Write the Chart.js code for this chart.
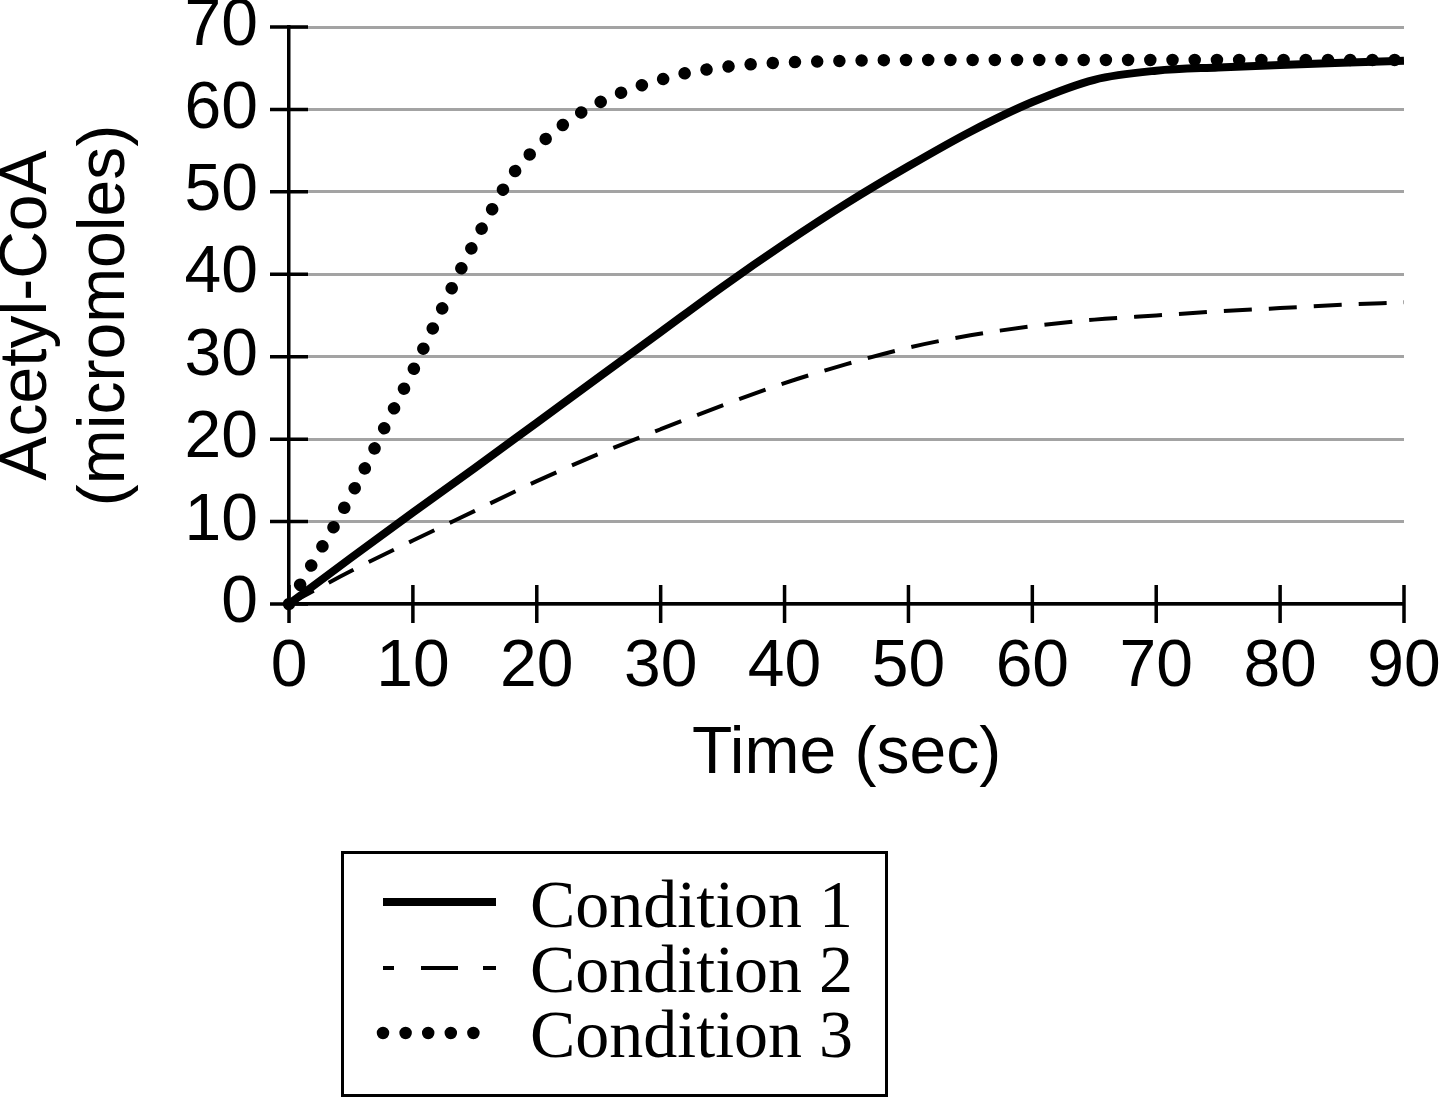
<!DOCTYPE html>
<html>
<head>
<meta charset="utf-8">
<title>Acetyl-CoA over time</title>
<style>
  * { margin: 0; padding: 0; box-sizing: border-box; }
  body { background: #fff; width: 1440px; height: 1097px; overflow: hidden; position: relative; }
  #chartBox { position: absolute; left: 0; top: 0; width: 1440px; height: 1097px; }
  #legend { position: absolute; left: 341px; top: 851px; }
  #legend text { font-family: "Liberation Serif", "Times New Roman", serif; font-size: 68px; fill: #000; }
</style>
</head>
<body>
<div id="chartBox"><canvas id="myChart" width="1440" height="1097"></canvas></div>

<svg id="legend" width="547" height="246" viewBox="0 0 547 246">
  <rect x="1.5" y="1.5" width="544" height="243" fill="#fff" stroke="#000" stroke-width="3"/>
  <line x1="42" y1="51" x2="155" y2="51" stroke="#000" stroke-width="8"/>
  <line x1="42" y1="117" x2="155" y2="117" stroke="#000" stroke-width="4" stroke-dasharray="11 27 37 25 13"/>
  <line x1="42" y1="182" x2="155" y2="182" stroke="#000" stroke-width="12.5" stroke-linecap="round" stroke-dasharray="0 22.6"/>
  <text x="189" y="76">Condition 1</text>
  <text x="189" y="141">Condition 2</text>
  <text x="189" y="206">Condition 3</text>
</svg>

<script src="https://cdn.jsdelivr.net/npm/chart.js"></script>
<script>
  // values
  const seriesNames = ["Condition 1", "Condition 2", "Condition 3"];

  const timeCond12 = [0, 5, 10, 15, 20, 25, 30, 35, 40, 45, 50, 55, 60, 65, 70, 75, 80, 85, 90];
  const cond1 = [0, 5.6, 11.1, 16.5, 22.0, 27.5, 33.0, 38.5, 43.7, 48.6, 53.1, 57.3, 60.9, 63.6, 64.7, 65.1, 65.4, 65.65, 65.9];
  const cond2 = [0, 4.0, 7.7, 11.3, 14.9, 18.2, 21.2, 24.1, 26.8, 29.1, 31.1, 32.6, 33.7, 34.5, 35.0, 35.5, 35.9, 36.3, 36.6];

  const timeCond3 = [0, 2, 4, 6, 8, 10, 12, 14, 16, 18, 20, 22, 24, 26, 28, 30, 32, 34, 36, 38, 40, 45, 50, 60, 70, 80, 90];
  const cond3 = [0, 5.2, 10.4, 16.1, 22.3, 28.3, 34.7, 41.0, 46.8, 52.0, 55.4, 58.0, 60.0, 61.5, 62.7, 63.6, 64.4, 64.9, 65.3, 65.55, 65.7, 65.9, 66, 66, 66, 66, 66];

  const xTickValues = [0, 10, 20, 30, 40, 50, 60, 70, 80, 90];
  const yTickValues = [0, 10, 20, 30, 40, 50, 60, 70];

  const toPoints = (xs, ys) => xs.map((t, i) => ({x: t, y: ys[i]}));

  // tick marks crossing both sides of the axes
  const crossTicks = {
    id: 'crossTicks',
    beforeDatasetsDraw(chart) {
      const {ctx, chartArea, scales: {x, y}} = chart;
      ctx.save();
      ctx.strokeStyle = '#000';
      ctx.lineWidth = 3.5;
      ctx.beginPath();
      xTickValues.forEach(v => {
        const px = x.getPixelForValue(v);
        ctx.moveTo(px, chartArea.bottom - 19);
        ctx.lineTo(px, chartArea.bottom + 19);
      });
      yTickValues.forEach(v => {
        const py = y.getPixelForValue(v);
        ctx.moveTo(chartArea.left - 19, py);
        ctx.lineTo(chartArea.left + 19, py);
      });
      ctx.stroke();
      ctx.restore();
    }
  };

  const sans = "'Liberation Sans', Arial, Helvetica, sans-serif";

  new Chart(document.getElementById('myChart'), {
    type: 'line',
    data: {
      datasets: [
        {
          label: seriesNames[0],
          data: toPoints(timeCond12, cond1),
          borderColor: '#000',
          borderWidth: 8,
          pointRadius: 0,
          cubicInterpolationMode: 'monotone',
          fill: false
        },
        {
          label: seriesNames[1],
          data: toPoints(timeCond12, cond2),
          borderColor: '#000',
          borderWidth: 4,
          borderDash: [28, 17],
          pointRadius: 0,
          cubicInterpolationMode: 'monotone',
          fill: false
        },
        {
          label: seriesNames[2],
          data: toPoints(timeCond3, cond3),
          borderColor: '#000',
          borderWidth: 12.5,
          borderDash: [0.01, 22.2],
          borderCapStyle: 'round',
          pointRadius: 0,
          cubicInterpolationMode: 'monotone',
          fill: false,
          clip: 8
        }
      ]
    },
    options: {
      responsive: false,
      animation: false,
      devicePixelRatio: 1,
      layout: { padding: { left: 0, right: 36, top: 27, bottom: 302.4 } },
      plugins: {
        legend: { display: false },
        tooltip: { enabled: false }
      },
      scales: {
        x: {
          type: 'linear',
          min: 0,
          max: 90,
          afterFit: s => { s.height = 190.6; s.paddingLeft = 0; s.paddingRight = 0; },
          afterBuildTicks: s => { s.ticks = xTickValues.map(v => ({value: v})); },
          grid: { display: false, drawTicks: false },
          border: { display: true, color: '#000', width: 3.5 },
          ticks: {
            color: '#000',
            padding: 24,
            maxRotation: 0,
            autoSkip: false,
            font: { family: sans, size: 66, lineHeight: 1.2 }
          },
          title: {
            display: true,
            text: 'Time (sec)',
            color: '#000',
            padding: 0,
            font: { family: sans, size: 66, lineHeight: 1.2 }
          }
        },
        y: {
          type: 'linear',
          min: 0,
          max: 70,
          afterFit: s => { s.width = 289; s.paddingTop = 0; s.paddingBottom = 0; },
          afterBuildTicks: s => { s.ticks = yTickValues.map(v => ({value: v})); },
          grid: { color: '#a3a3a3', lineWidth: 3, drawTicks: false },
          border: { display: true, color: '#000', width: 3.5 },
          ticks: {
            color: '#000',
            padding: 31,
            font: { family: sans, size: 66, lineHeight: 1.2 }
          },
          title: {
            display: true,
            text: ['Acetyl-CoA', '(micromoles)'],
            color: '#000',
            padding: { top: -10.5, bottom: 0 },
            font: { family: sans, size: 66, lineHeight: 1.17 }
          }
        }
      }
    },
    plugins: [crossTicks]
  });
</script>
</body>
</html>
